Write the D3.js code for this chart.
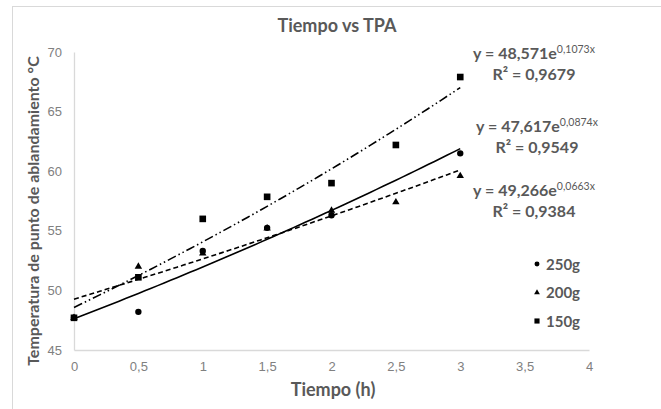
<!DOCTYPE html>
<html lang="es">
<head>
<meta charset="utf-8">
<title>Tiempo vs TPA</title>
<script src="https://cdn.jsdelivr.net/npm/d3@7/dist/d3.min.js"></script>
<style>
  html, body { margin: 0; padding: 0; background: #fff; }
  svg { display: block; font-family: Lato, 'Open Sans', sans-serif; }
</style>
</head>
<body>
<svg id="chart" width="661" height="409"></svg>
<script>
(function () {
  'use strict';

  /* ------------------------------------------------------------ datos */
  const tiempos = [0, 0.5, 1, 1.5, 2, 2.5, 3];
  // null = punto que no aparece en la figura
  const tpa250 = [47.7, 48.2, 53.3, 55.25, 56.3, null, 61.5];
  const tpa200 = [47.7, 52.0, 53.1, 55.2, 56.7, 57.4, 59.6];
  const tpa150 = [47.7, 51.1, 56.0, 57.85, 59.0, 62.2, 67.9];

  const series = ['250g', '200g', '150g'];
  // líneas de tendencia exponencial y = a·e^(b·x), tal como las da la hoja
  const coefA = [47.617, 49.266, 48.571];
  const coefB = [0.0874, 0.0663, 0.1073];
  const r2 = ['0,9549', '0,9384', '0,9679'];

  const xTicks = [0, 0.5, 1, 1.5, 2, 2.5, 3, 3.5, 4];
  const yTicks = [45, 50, 55, 60, 65, 70];

  /* ------------------------------------------------------------ estilo */
  const INK = '#000';
  const GRIS = '#595959';
  const EJE = '#d9d9d9';
  const DASH = ['', '5,3', '9,3,1.5,3,1.5,3'];
  const MARK = [d3.symbolCircle, d3.symbolTriangle, d3.symbolSquare];
  const MSIZE = [32, 24, 44];

  const svg = d3.select('#chart');
  const m = { left: 74, right: 72, top: 52, bottom: 59 };
  const W = 661, H = 409;

  const x = d3.scaleLinear().domain([0, 4]).range([m.left, W - m.right]);
  const y = d3.scaleLinear().domain([45, 70]).range([H - m.bottom, m.top]);

  // marco del gráfico (solo se ven los bordes izquierdo y superior)
  svg.append('rect')
    .attr('x', 12.5).attr('y', 6.5).attr('width', 700).attr('height', 450)
    .attr('fill', '#fff').attr('stroke', EJE).attr('stroke-width', 1);

  // ejes
  const fmt = (v) => String(v).replace('.', ',');
  const gx = svg.append('g').attr('transform', `translate(0,${y(45)})`)
    .call(d3.axisBottom(x).tickValues(xTicks).tickFormat(fmt).tickSize(0).tickPadding(12));
  const gy = svg.append('g').attr('transform', `translate(${x(0)},0)`)
    .call(d3.axisLeft(y).tickValues(yTicks).tickFormat(fmt).tickSize(0).tickPadding(12));
  [gx, gy].forEach((g) => {
    g.select('.domain').attr('stroke', EJE).attr('stroke-width', 1.3);
    g.selectAll('text').attr('fill', '#808080').attr('font-size', 13).attr('font-family', null);
  });

  // líneas de tendencia
  const xs = d3.range(0, 3.0001, 0.05);
  const line = d3.line().x((d) => x(d[0])).y((d) => y(d[1]));
  coefA.forEach((a, i) => {
    svg.append('path')
      .datum(xs.map((t) => [t, a * Math.exp(coefB[i] * t)]))
      .attr('d', line)
      .attr('fill', 'none').attr('stroke', INK).attr('stroke-width', 1.6)
      .attr('stroke-dasharray', DASH[i] || null);
  });

  // puntos
  const valores = [tpa250, tpa200, tpa150];
  valores.forEach((vals, i) => {
    const sym = d3.symbol().type(MARK[i]).size(MSIZE[i]);
    svg.append('g').selectAll('path')
      .data(tiempos.map((t, k) => [t, vals[k]]).filter((d) => d[1] != null))
      .join('path')
      .attr('d', sym)
      .attr('transform', (d) => `translate(${x(d[0])},${y(d[1])})`)
      .attr('fill', INK);
  });

  // ecuaciones
  const ecY = [126, 190, 53];
  const ecX = [537, 534, 534];
  coefA.forEach((a, i) => {
    const t = svg.append('text')
      .attr('x', ecX[i]).attr('y', ecY[i] + 6)
      .attr('text-anchor', 'middle')
      .attr('fill', GRIS).attr('font-size', 16).attr('font-weight', 700);
    t.append('tspan').text(`y = ${fmt(a)}e`);
    t.append('tspan').attr('dy', -6).attr('font-size', 10.5).attr('font-weight', 400)
      .text(`${fmt(coefB[i])}x`);
    svg.append('text')
      .attr('x', ecX[i]).attr('y', ecY[i] + 27)
      .attr('text-anchor', 'middle')
      .attr('fill', GRIS).attr('font-size', 16).attr('font-weight', 700)
      .text(`R² = ${r2[i]}`);
  });

  // leyenda
  const lg = svg.append('g').attr('transform', 'translate(537,264)');
  series.forEach((s, i) => {
    const row = lg.append('g').attr('transform', `translate(0,${i * 28.5})`);
    row.append('path').attr('d', d3.symbol().type(MARK[i]).size(MSIZE[i] * 0.6)).attr('fill', INK);
    row.append('text').attr('x', 9).attr('y', 5.5)
      .attr('fill', GRIS).attr('font-size', 15).attr('font-weight', 700).text(s);
  });

  // títulos
  svg.append('text')
    .attr('x', 337).attr('y', 32).attr('text-anchor', 'middle')
    .attr('fill', GRIS).attr('font-size', 18).attr('font-weight', 700)
    .text('Tiempo vs TPA');
  svg.append('text')
    .attr('x', 333).attr('y', 396).attr('text-anchor', 'middle')
    .attr('fill', GRIS).attr('font-size', 18).attr('font-weight', 700)
    .text('Tiempo (h)');
  svg.append('text')
    .attr('transform', 'translate(39,211) rotate(-90)').attr('text-anchor', 'middle')
    .attr('fill', GRIS).attr('font-size', 16).attr('font-weight', 700)
    .text('Temperatura de punto de ablandamiento °C');
})();
</script>
</body>
</html>
